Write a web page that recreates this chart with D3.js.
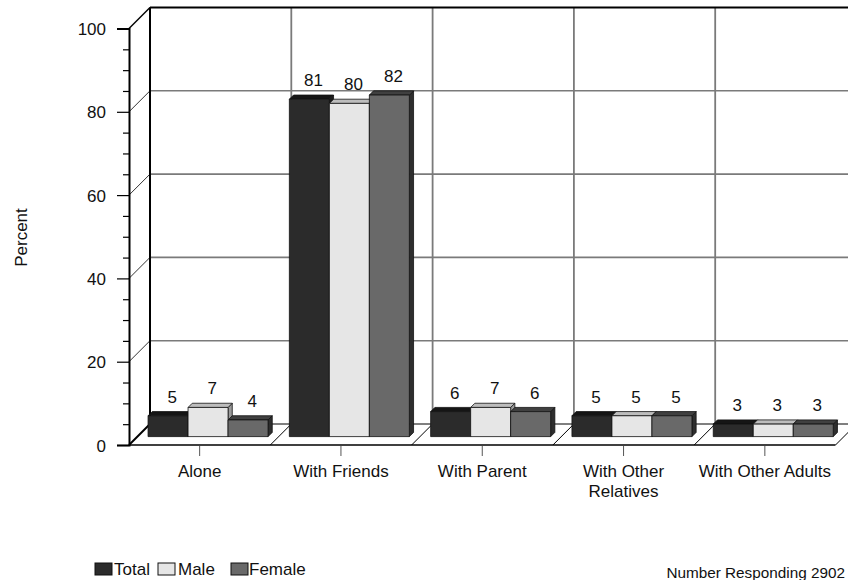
<!DOCTYPE html>
<html>
<head>
<meta charset="utf-8">
<script src="https://cdn.jsdelivr.net/npm/d3@7"></script>
<style>
  html, body { margin: 0; padding: 0; background: #fff; }
  svg { display: block; }
  text { font-family: "Liberation Sans", Arial, Helvetica, sans-serif; fill: #111; }
</style>
</head>
<body>
<svg id="chart" width="848" height="580"></svg>
<script>
// Who students spend time with, by group (percent)
const categories = ["Alone", "With Friends", "With Parent", "With Other Relatives", "With Other Adults"];
const categoryLines = [["Alone"], ["With Friends"], ["With Parent"], ["With Other", "Relatives"], ["With Other Adults"]];
const series = ["Total", "Male", "Female"];
const totalValues = [5, 81, 6, 5, 3];
const maleValues = [7, 80, 7, 5, 3];
const femaleValues = [4, 82, 6, 5, 3];
const yTicks = [0, 20, 40, 60, 80, 100];
const yMinorTicks = [5, 10, 15, 25, 30, 35, 45, 50, 55, 65, 70, 75, 85, 90, 95];
const footnote = "Number Responding 2902";

const valuesBySeries = { Total: totalValues, Male: maleValues, Female: femaleValues };
const faceColors = {
  Total:  { front: "#2b2b2b", top: "#151515", side: "#1c1c1c" },
  Male:   { front: "#e6e6e6", top: "#bdbdbd", side: "#9a9a9a" },
  Female: { front: "#696969", top: "#404040", side: "#2e2e2e" }
};

const svg = d3.select("#chart");

// front plane of the 3D box
const x0 = 129, floorY = 445, topY = 28.5;
const D = 21;                 // wall depth, drawn at 45 degrees
const barD1 = 8.4, barD2 = 12.6; // bar front / back depth

const x = d3.scaleBand().domain(categories).range([x0, x0 + 141.3 * categories.length]).padding(0);
const bw = x.bandwidth();
const groupW = 120;
const xs = d3.scaleBand().domain(series).range([(bw - groupW) / 2, (bw + groupW) / 2]).padding(0);
const y = d3.scaleLinear().domain([0, 100]).range([floorY, topY]);

const line = (x1, y1, x2, y2, stroke, w) =>
  svg.append("line").attr("x1", x1).attr("y1", y1).attr("x2", x2).attr("y2", y2)
     .attr("stroke", stroke).attr("stroke-width", w);

const right = 848;

// back wall gridlines
yTicks.filter(t => t > 0 && t < 100).forEach(t => {
  line(x0 + D, y(t) - D, right, y(t) - D, "#7a7a7a", 1.6);
  line(x0, y(t), x0 + D, y(t) - D, "#333", 1);
});
// back wall category dividers
categories.forEach((c, i) => {
  if (i === 0) return;
  line(x(c) + D, y(100) - D, x(c) + D, y(0) - D, "#7a7a7a", 1.8);
});
// back wall top edge and left edge
line(x0 + D, y(100) - D, right, y(100) - D, "#000", 2);
line(x0, y(100), x0 + D, y(100) - D, "#000", 1.5);
line(x0 + D, y(100) - D, x0 + D, y(0) - D, "#000", 2);

// floor
const xEnd = x0 + bw * categories.length;
line(x0 + D, floorY - D, right, floorY - D, "#000", 1);
categories.forEach((c, i) => {
  if (i === 0) return;
  line(x(c), floorY, x(c) + D, floorY - D, "#000", 1);
});
line(xEnd, floorY, xEnd + D, floorY - D, "#000", 1);
line(x0, floorY, x0 + D, floorY - D, "#000", 2);
line(x0, floorY, xEnd, floorY, "#000", 1.6);

// value axis
const yAxis = svg.append("g").attr("transform", `translate(${x0},0)`)
  .call(d3.axisLeft(y).tickValues(yTicks).tickSize(12).tickPadding(11).tickFormat(d3.format("d")));
yAxis.select(".domain").attr("stroke", "#000").attr("stroke-width", 2);
yAxis.selectAll(".tick line").attr("stroke", "#000").attr("stroke-width", 1.2);
yAxis.selectAll(".tick text").attr("font-size", 17).attr("font-family", null).attr("fill", "#111").attr("dy", "0.36em");
const yMinor = svg.append("g").attr("transform", `translate(${x0},0)`)
  .call(d3.axisLeft(y).tickValues(yMinorTicks).tickSize(6).tickFormat(""));
yMinor.select(".domain").remove();
yMinor.selectAll(".tick line").attr("stroke", "#000").attr("stroke-width", 1.2);

// category axis ticks
const xAxis = svg.append("g").attr("transform", `translate(0,${floorY + 1})`)
  .call(d3.axisBottom(x).tickSize(10).tickFormat(""));
xAxis.select(".domain").remove();
xAxis.selectAll(".tick line").attr("stroke", "#555").attr("stroke-width", 1);

// category labels
categories.forEach((c, i) => {
  const t = svg.append("text").attr("x", x(c) + bw / 2).attr("y", 477)
    .attr("text-anchor", "middle").attr("font-size", 17);
  categoryLines[i].forEach((ln, j) => {
    t.append("tspan").attr("x", x(c) + bw / 2).attr("dy", j === 0 ? 0 : 20).text(ln);
  });
});

// 3D bars
categories.forEach((c, ci) => {
  series.forEach(s => {
    const v = valuesBySeries[s][ci];
    const bx = x(c) + xs(s), w = xs.bandwidth();
    const yt = y(v), yb = y(0);
    const col = faceColors[s];
    const g = svg.append("g").attr("stroke", "#111").attr("stroke-width", 0.8).attr("stroke-linejoin", "round");
    g.append("polygon").attr("fill", col.side).attr("points", [
      [bx + w + barD1, yt - barD1], [bx + w + barD2, yt - barD2],
      [bx + w + barD2, yb - barD2], [bx + w + barD1, yb - barD1]].join(" "));
    g.append("polygon").attr("fill", col.top).attr("points", [
      [bx + barD1, yt - barD1], [bx + barD2, yt - barD2],
      [bx + w + barD2, yt - barD2], [bx + w + barD1, yt - barD1]].join(" "));
    g.append("rect").attr("fill", col.front)
      .attr("x", bx + barD1).attr("y", yt - barD1).attr("width", w).attr("height", yb - yt);
    svg.append("text").attr("x", bx + w / 2 + (barD1 + barD2) / 2 + 2).attr("y", yt - 21.5)
      .attr("text-anchor", "middle").attr("font-size", 17).text(v);
  });
});

// axis title
svg.append("text").attr("transform", "translate(27,237.5) rotate(-90)")
  .attr("text-anchor", "middle").attr("font-size", 17).text("Percent");

// legend
const legendPos = [{ sx: 95, tx: 114 }, { sx: 158, tx: 178 }, { sx: 231, tx: 249 }];
series.forEach((s, i) => {
  svg.append("rect").attr("x", legendPos[i].sx).attr("y", 563).attr("width", 17).attr("height", 12)
    .attr("fill", faceColors[s].front).attr("stroke", "#111").attr("stroke-width", 1);
  svg.append("text").attr("x", legendPos[i].tx).attr("y", 575).attr("font-size", 17).text(s);
});

// footnote
svg.append("text").attr("x", 845).attr("y", 577.5).attr("text-anchor", "end")
  .attr("font-size", 15.3).text(footnote);
</script>
</body>
</html>
